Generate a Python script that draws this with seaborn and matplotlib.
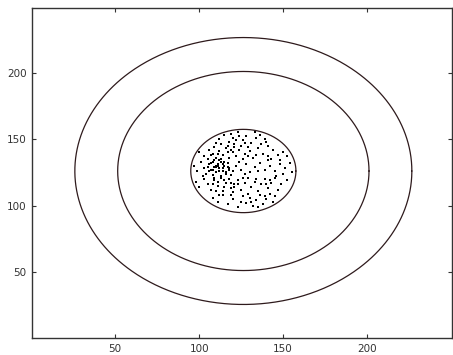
import numpy as np
import pandas as pd
import matplotlib
matplotlib.use("Agg")
import matplotlib.pyplot as plt
import seaborn as sns

# ---- data ----
center_x = 126.3
center_y = 126.0
radii = [100.3, 74.8, 31.3]
ticks = [50, 100, 150, 200]

dots_x = [112,115,118,120,121,123,126,128,131,134,137,139,117,110,125,129,133,136,141,119,122,113,127,124,140,
          100,103,106,108,110,112,114,116,118,120,122,124,127,130,132,135,138,141,144,147,150,105,109,113,117,121,126,129,134,143,148,152,107,111,119,
          97,99,101,103,104,106,107,108,109,110,111,112,113,114,115,116,117,118,120,122,124,125,128,130,133,136,139,142,145,148,151,154,155,102,105,108,112,119,127,135,141,146,150,106,110,114,
          98,100,103,105,107,109,111,113,114,116,118,119,121,123,125,127,129,131,133,135,137,139,141,143,145,147,149,152,115,108,126,134,142,140,120,110,
          108,111,114,117,120,123,126,128,130,132,134,136,138,140,142,144,129,125,131,135,119,139,145,112,
          107,109,111,113,115,117,108,110,112,114,116,118,109,111,113,115,119,121,123]
dots_y = [150,153,148,151,146,155,149,152,147,151,146,150,145,147,145,144,155,153,145,154,149,146,147,152,148,
          140,137,142,139,136,141,138,143,136,140,137,142,139,141,136,143,139,137,142,138,140,135,144,135,140,144,135,137,138,135,134,137,138,139,142,
          130,126,133,128,124,131,127,133,129,125,131,128,133,126,130,124,132,128,126,130,133,127,131,125,129,132,127,130,126,131,128,132,125,122,129,123,134,123,124,126,134,122,124,126,130,131,
          118,114,120,116,112,119,115,121,111,117,120,113,116,119,112,117,121,114,118,111,116,120,113,117,121,112,116,119,114,116,121,120,119,116,110,111,
          106,103,108,101,105,99,107,102,106,100,104,108,101,105,109,103,109,103,103,99,108,107,107,108,
          132,134,130,135,133,129,127,129,126,128,125,127,121,118,122,119,117,114,116]

# ---- figure ----
sns.set_style("white")
plt.rcParams["font.family"] = ["DejaVu Sans"]
fig = plt.figure(figsize=(4.53, 3.55), dpi=100)
ax = fig.add_axes([32/453, 17/355, 420/453, 330/355])

t = np.linspace(0, 2*np.pi, 721)
for r in radii:
    df = pd.DataFrame({"x": center_x + r*np.cos(t), "y": center_y + r*np.sin(t)})
    sns.lineplot(data=df, x="x", y="y", sort=False, estimator=None,
                 color="#2e1a1c", linewidth=0.9, ax=ax)

sns.scatterplot(x=dots_x, y=dots_y, color="black", s=1.6, marker="s",
                linewidth=0, ax=ax)

ax.set_xlim(0.5, 250.5)
ax.set_ylim(0.5, 248.5)
ax.set_xticks(ticks)
ax.set_yticks(ticks)
ax.set_xlabel("")
ax.set_ylabel("")
ax.tick_params(direction="in", length=3, width=0.8, color="#333333",
               labelsize=7.5, labelcolor="#333333", top=True, right=True,
               bottom=True, left=True, pad=4)
for s in ax.spines.values():
    s.set_color("#333333")
    s.set_linewidth(1.0)
    s.set_visible(True)

fig.savefig("out.png", dpi=100)
